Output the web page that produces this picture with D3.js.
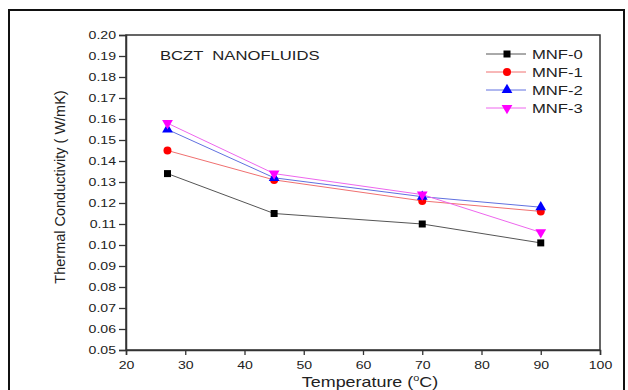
<!DOCTYPE html>
<html>
<head>
<meta charset="utf-8">
<script src="https://cdn.jsdelivr.net/npm/d3@7"></script>
<style>
  html, body { margin: 0; padding: 0; background: #fff; }
  svg { display: block; font-family: "Liberation Sans", Arial, sans-serif; }
</style>
</head>
<body>
<div id="chart"></div>
<script>
// Data
const temperatures = [27, 45, 70, 90];
const seriesNames = ["MNF-0", "MNF-1", "MNF-2", "MNF-3"];
const mnf0 = [0.134, 0.115, 0.110, 0.101];
const mnf1 = [0.145, 0.131, 0.121, 0.116];
const mnf2 = [0.155, 0.132, 0.123, 0.118];
const mnf3 = [0.158, 0.134, 0.124, 0.106];
const xTicks = [20, 30, 40, 50, 60, 70, 80, 90, 100];
const yTicks = d3.range(5, 21).map(v => v / 100);

const seriesValues = [mnf0, mnf1, mnf2, mnf3];
const lineColors = ["#555", "#f07070", "#6070e0", "#ee66ee"];
const markColors = ["#000", "#ff0000", "#0000ff", "#ff00ff"];
const symbols = [d3.symbolSquare, d3.symbolCircle, d3.symbolTriangle, d3.symbolTriangle];
const symbolSizes = [49, 50, 50, 50];

// the original's lettering is wide, so horizontal text gets stretched
const stretch = 1.28;

const width = 628, height = 390;
const margin = { left: 126, right: 28, top: 35, bottom: 40 };

const svg = d3.select("#chart").append("svg")
    .attr("width", width)
    .attr("height", height);

// outer frame
svg.append("rect")
    .attr("x", 9).attr("y", 10)
    .attr("width", 615).attr("height", 390)
    .attr("fill", "none")
    .attr("stroke", "#111")
    .attr("stroke-width", 2);

const x = d3.scaleLinear().domain([20, 100]).range([margin.left, width - margin.right]);
const y = d3.scaleLinear().domain([0.05, 0.20]).range([height - margin.bottom, margin.top]);

// plot box
svg.append("rect")
    .attr("x", x(20)).attr("y", y(0.20))
    .attr("width", x(100) - x(20)).attr("height", y(0.05) - y(0.20))
    .attr("fill", "none")
    .attr("stroke", "#333")
    .attr("stroke-width", 1.5);

const xAxis = svg.append("g")
    .attr("transform", `translate(0,${y(0.05)})`)
    .call(d3.axisBottom(x).tickValues(xTicks).tickSize(5).tickPadding(6).tickFormat(d3.format("d")));

const yAxis = svg.append("g")
    .attr("transform", `translate(${x(20)},0)`)
    .call(d3.axisLeft(y).tickValues(yTicks).tickSize(7).tickPadding(3).tickFormat(d3.format(".2f")));

[xAxis, yAxis].forEach(g => {
    g.select(".domain").attr("stroke", "#333").attr("stroke-width", 1.5);
    g.selectAll(".tick line").attr("stroke", "#333").attr("stroke-width", 1.3);
    g.selectAll(".tick text")
        .attr("fill", "#222")
        .style("font-size", "11px")
        .attr("x", function() { return (+this.getAttribute("x") || 0) / stretch; })
        .attr("transform", `scale(${stretch},1)`);
});

// series
const line = d3.line().x((d, i) => x(temperatures[i])).y(d => y(d));

seriesValues.forEach((vals, k) => {
    svg.append("path")
        .datum(vals)
        .attr("fill", "none")
        .attr("stroke", lineColors[k])
        .attr("stroke-width", 1)
        .attr("d", line);
});

function marker(g, k, px, py) {
    g.append("path")
        .attr("d", d3.symbol().type(symbols[k]).size(symbolSizes[k])())
        .attr("transform", `translate(${px},${py})` + (k === 3 ? " rotate(180)" : ""))
        .attr("fill", markColors[k]);
}

seriesValues.forEach((vals, k) => {
    const g = svg.append("g");
    vals.forEach((v, i) => marker(g, k, x(temperatures[i]), y(v)));
});

function wideText(px, py, size) {
    return svg.append("text")
        .attr("transform", `translate(${px},${py}) scale(${stretch},1)`)
        .attr("fill", "#222")
        .style("font-size", size + "px");
}

// annotation
wideText(160, 60, 13)
    .attr("xml:space", "preserve")
    .text("BCZT  NANOFLUIDS");

// legend
seriesNames.forEach((name, k) => {
    const ly = 54 + k * 18;
    svg.append("line")
        .attr("x1", 486).attr("x2", 526)
        .attr("y1", ly).attr("y2", ly)
        .attr("stroke", lineColors[k]).attr("stroke-width", 1);
    marker(svg, k, 507, ly);
    wideText(532, ly, 13)
        .attr("dy", "0.36em")
        .text(name);
});

// axis titles
svg.append("text")
    .attr("transform", "translate(65,187) rotate(-90)")
    .attr("text-anchor", "middle")
    .attr("fill", "#222")
    .style("font-size", "14.5px")
    .text("Thermal Conductivity ( W/mK)");

const xt = wideText(370, 387, 14).attr("text-anchor", "middle");
xt.append("tspan").text("Temperature (");
xt.append("tspan").attr("dy", -6).style("font-size", "8.5px").text("o");
xt.append("tspan").attr("dy", 6).text("C)");
</script>
</body>
</html>
